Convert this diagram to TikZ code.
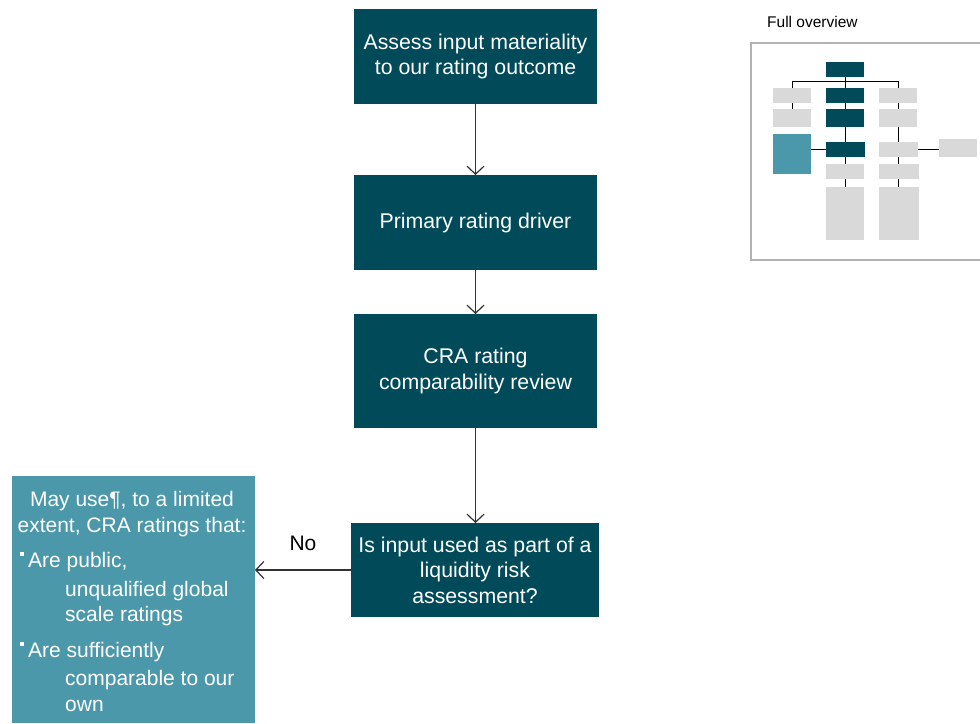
\documentclass[tikz,border=0pt]{standalone}
\usepackage{fontspec}
\setmainfont{Liberation Sans}
\usetikzlibrary{arrows.meta}
\definecolor{darkteal}{RGB}{0,74,89}
\definecolor{lightteal}{RGB}{75,152,170}
\definecolor{ovgray}{RGB}{217,217,217}
\definecolor{framegray}{RGB}{178,178,178}
\definecolor{linegray}{RGB}{50,50,50}
\tikzset{
  mainbox/.style={fill=darkteal, text=white, align=center, inner sep=0pt, outer sep=0pt,
    font=\fontsize{21.3}{25.5}\selectfont},
  flowarrow/.style={draw=linegray, line width=1.2pt, -{Straight Barb[length=8pt,width=17pt,line width=1.2pt]}},
  lefttext/.style={text=white, inner sep=0pt, font=\fontsize{21}{25}\selectfont},
  ovbox/.style={inner sep=0pt, outer sep=0pt, minimum width=38pt, minimum height=15pt},
  ovdark/.style={ovbox, fill=darkteal},
  ovlight/.style={ovbox, fill=ovgray},
  ovteal/.style={ovbox, fill=lightteal},
  ovline/.style={draw=black, line width=0.9pt},
  bulletsq/.style={fill=white, inner sep=0pt, minimum size=3.5pt}
}
\begin{document}
\begin{tikzpicture}[x=1pt,y=-1pt]
\useasboundingbox (0,0) rectangle (980,723);
% main flow
\node[mainbox, minimum width=243pt, minimum height=95pt] (b1) at (475.5,56.5) {Assess input materiality\\to our rating outcome};
\node[mainbox, minimum width=243pt, minimum height=95pt] (b2) at (475.5,222.5) {Primary rating driver};
\node[mainbox, minimum width=243pt, minimum height=114pt] (b3) at (475.5,371) {CRA rating\\comparability review};
\node[mainbox, minimum width=248pt, minimum height=94pt] (b4) at (475,570) {Is input used as part of a\\liquidity risk\\assessment?};
\node[fill=lightteal, inner sep=0pt, outer sep=0pt, minimum width=243pt, minimum height=247pt] (lb) at (133.5,599.5) {};
\draw[flowarrow] (b1.south) -- (b2.north);
\draw[flowarrow] (b2.south) -- (b3.north);
\draw[flowarrow] (b3.south) -- (b3.south |- b4.north);
\draw[flowarrow] (b4.west) -- (b4.west -| lb.east);
\node[anchor=base, inner sep=0pt, font=\fontsize{21}{25}\selectfont] (no) at (303,550) {No};
% left box text
\node[lefttext, anchor=base] (t1) at (132,506) {May use¶, to a limited};
\node[lefttext, anchor=base] (t2) at (132,532) {extent, CRA ratings that:};
\node[bulletsq] (s1) at (22,554) {};
\node[lefttext, anchor=base west] (t3) at (28,567) {Are public,};
\node[lefttext, anchor=base west] (t4) at (65,596) {unqualified global};
\node[lefttext, anchor=base west] (t5) at (65,621) {scale ratings};
\node[bulletsq] (s2) at (22,644) {};
\node[lefttext, anchor=base west] (t6) at (28,657) {Are sufficiently};
\node[lefttext, anchor=base west] (t7) at (65,685) {comparable to our};
\node[lefttext, anchor=base west] (t8) at (65,711) {own};
% overview
\node[anchor=base west, inner sep=0pt, font=\fontsize{15.5}{17}\selectfont] (ovt) at (767,27) {Full overview};
\draw[draw=framegray, line width=1.2pt] (751,43) rectangle (995,260);
\node[ovdark] (ot) at (845,69.5) {};
\node[ovlight] (ol1) at (792,95.5) {};
\node[ovlight, minimum height=18pt] (ol2) at (792,118) {};
\node[ovteal, minimum height=40pt] (olt) at (792,154) {};
\node[ovdark] (oc1) at (845,95.5) {};
\node[ovdark, minimum height=18pt] (oc2) at (845,118) {};
\node[ovdark, minimum width=39pt] (oc3) at (845.5,149.5) {};
\node[ovlight] (oc4) at (845,171.5) {};
\node[ovlight, minimum height=53pt] (oc5) at (845,213.5) {};
\node[ovlight] (or1) at (898,95.5) {};
\node[ovlight, minimum height=18pt] (or2) at (898,118) {};
\node[ovlight, minimum width=39pt] (or3) at (898.5,149.5) {};
\node[ovlight, minimum width=40pt] (or4) at (899,171.5) {};
\node[ovlight, minimum width=40pt, minimum height=53pt] (or5) at (899,213.5) {};
\node[ovlight, minimum height=18pt] (ofr) at (958,148) {};
\coordinate (busl) at (792,81);
\coordinate (busr) at (898,81);
\draw[ovline] (busl) -- (busr);
\draw[ovline] (busl) -- (ol1.north);
\draw[ovline] (busr) -- (or1.north);
\draw[ovline] (ot.south) -- (oc1.north);
\draw[ovline] (ol1.south) -- (ol2.north);
\draw[ovline] (oc1.south) -- (oc2.north);
\draw[ovline] (oc2.south) -- (oc3.north -| oc2.south);
\draw[ovline] (oc3.south -| oc4.north) -- (oc4.north);
\draw[ovline] (oc4.south) -- (oc5.north);
\draw[ovline] (or1.south) -- (or2.north);
\draw[ovline] (or2.south) -- (or3.north -| or2.south);
\draw[ovline] (or3.south -| or2.south) -- (or4.north -| or2.south);
\draw[ovline] (or4.south -| or2.south) -- (or5.north -| or2.south);
\draw[ovline] (olt.east |- oc3.west) -- (oc3.west);
\draw[ovline] (or3.east) -- (ofr.west |- or3.east);
\end{tikzpicture}
\end{document}
